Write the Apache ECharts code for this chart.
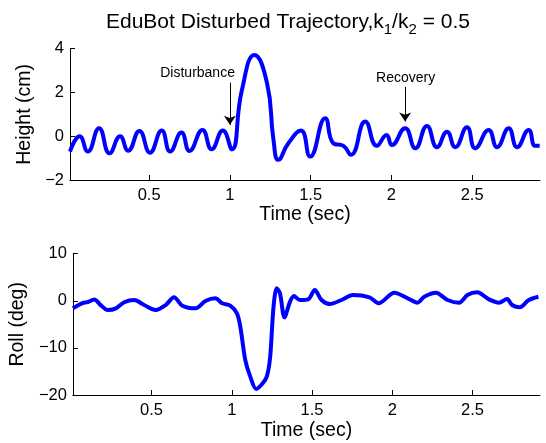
<!DOCTYPE html>
<html>
<head>
<meta charset="utf-8">
<script src="https://cdn.jsdelivr.net/npm/echarts@6/dist/echarts.min.js"></script>
<style>
  html, body { margin: 0; padding: 0; background: #fff; }
  #main { width: 546px; height: 443px; }
</style>
</head>
<body>
<div id="main"></div>
<script>
// top plot: height vs time
const heightTime = [0.01, 0.07, 0.12, 0.19, 0.255, 0.32, 0.37, 0.44, 0.505, 0.578, 0.63, 0.70, 0.75, 0.83, 0.887, 0.956,
  1.012, 1.074, 1.152, 1.23, 1.27, 1.30, 1.362, 1.44, 1.497, 1.59, 1.64, 1.703, 1.749, 1.838, 1.91, 1.97, 2.003,
  2.085, 2.148, 2.22, 2.282, 2.344, 2.395, 2.468, 2.519, 2.602, 2.654, 2.726, 2.778, 2.85, 2.89, 2.918]
const heightVal = [-0.70, 0.0, -0.70, 0.37, -0.78, 0.0, -0.66, 0.24, -0.75, 0.26, -0.70, 0.17, -0.67, 0.29, -0.60, 0.26,
  -0.60, 2.1, 3.71, 2.42, -0.17, -1.08, -0.32, 0.26, -0.93, 0.82, -0.32, -0.44, -0.85, 0.67, -0.44, 0.06, -0.40,
  0.37, -0.55, 0.47, -0.50, 0.21, -0.50, 0.41, -0.55, 0.29, -0.50, 0.37, -0.50, 0.29, -0.44, -0.44]

// bottom plot: roll vs time
const rollTime = [0.01, 0.07, 0.10, 0.144, 0.18, 0.227, 0.278, 0.33, 0.392, 0.454, 0.526, 0.588, 0.64, 0.692, 0.774, 0.836,
  0.898, 0.94, 0.99, 1.032, 1.053, 1.084, 1.115, 1.152, 1.19, 1.218, 1.239, 1.26, 1.28, 1.30, 1.328, 1.363, 1.387,
  1.424, 1.476, 1.517, 1.559, 1.61, 1.683, 1.755, 1.858, 1.914, 2.013, 2.096, 2.157, 2.199, 2.271, 2.344, 2.416,
  2.468, 2.529, 2.602, 2.664, 2.715, 2.746, 2.794, 2.85, 2.91]
const rollVal = [-1.6, -0.5, -0.3, 0.3, -0.8, -1.95, -1.6, -0.3, 0.17, -0.9, -1.95, -0.9, 0.74, -1.04, -1.6, -0.04,
  0.53, -0.53, -1.04, -2.65, -5.5, -12.6, -16.1, -18.7, -17.6, -16.1, -11.9, -1.25, 2.65, 1.6, -3.5, -0.18, 1.0,
  0.17, 0.3, 2.3, 0.17, -0.68, 0.17, 1.23, 0.74, -0.53, 1.72, 0.53, -0.4, 0.87, 1.72, 0.17, -0.4,
  1.23, 1.8, 0.3, -0.4, 0.38, -0.9, -1.38, 0.17, 0.87]

// annotations [label, textX, textY, arrowX, arrowTop, arrowBottom]
const notes = [
  ['Disturbance', 0.80, 2.88, 1.0, 2.45, 0.52],
  ['Recovery', 2.088, 2.65, 2.085, 2.26, 0.67]
]

const xTicks = [0.5, 1, 1.5, 2, 2.5]
const heightTicks = [-2, 0, 2, 4]
const rollTicks = [-20, -10, 0, 10]

const font = 'Liberation Sans, Arial, Helvetica, sans-serif'
const minus = v => String(v).replace('-', '\u2212')

const xAxisBase = (idx, gap) => ({
  gridIndex: idx,
  type: 'value',
  min: 0.01,
  max: 2.92,
  name: 'Time (sec)',
  nameLocation: 'middle',
  nameGap: gap,
  nameTextStyle: { fontFamily: font, fontSize: 19.5, color: '#000' },
  axisLine: { onZero: false, lineStyle: { color: '#000', width: 1 } },
  axisTick: { inside: true, length: 5, lineStyle: { color: '#000' }, customValues: xTicks },
  axisLabel: { fontFamily: font, fontSize: 16.5, color: '#000', margin: 7, customValues: xTicks },
  splitLine: { show: false }
})

const yAxisBase = (idx, name, min, max, interval) => ({
  gridIndex: idx,
  type: 'value',
  min: min,
  max: max,
  interval: interval,
  name: name,
  nameLocation: 'middle',
  nameGap: 33,
  nameTextStyle: { fontFamily: font, fontSize: 19.5, color: '#000' },
  axisLine: { show: true, onZero: false, lineStyle: { color: '#000', width: 1 } },
  axisTick: { show: true, inside: true, length: 5, lineStyle: { color: '#000' } },
  axisLabel: { fontFamily: font, fontSize: 16.5, color: '#000', margin: 6, formatter: minus },
  splitLine: { show: false }
})

const chart = echarts.init(document.getElementById('main'))

const option = {
  animation: false,
  backgroundColor: '#fff',
  title: {
    text: 'EduBot Disturbed Trajectory,k{sub|1}/k{sub|2} = 0.5',
    left: 101,
    top: 3,
    textStyle: {
      fontFamily: font, fontSize: 21, fontWeight: 'normal', color: '#000',
      rich: {
        sub: { fontFamily: font, fontSize: 15, color: '#000', verticalAlign: 'bottom', padding: [14, 0, 0, 0] }
      }
    }
  },
  grid: [
    { left: 70, right: 6, top: 48.7, height: 131.3 },
    { left: 70, right: 6, top: 253.7, height: 141.3 }
  ],
  xAxis: [xAxisBase(0, 24), xAxisBase(1, 26)],
  yAxis: [
    yAxisBase(0, 'Height (cm)', heightTicks[0], heightTicks[heightTicks.length - 1], 2),
    yAxisBase(1, 'Roll (deg)', rollTicks[0], rollTicks[rollTicks.length - 1], 10)
  ],
  series: [
    {
      type: 'line',
      xAxisIndex: 0,
      yAxisIndex: 0,
      data: heightTime.map((t, i) => [t, heightVal[i]]),
      smooth: 0.5,
      showSymbol: false,
      lineStyle: { color: '#0000ff', width: 4 },
      markLine: {
        silent: true,
        symbol: ['none', 'arrow'],
        symbolSize: 9,
        label: { show: false },
        lineStyle: { color: '#000', width: 1, type: 'solid' },
        data: notes.map(n => [{ coord: [n[3], n[4]] }, { coord: [n[3], n[5]] }])
      },
      markPoint: {
        silent: true,
        symbol: 'circle',
        symbolSize: 0,
        label: { show: true, position: 'inside', fontFamily: font, fontSize: 14, color: '#000' },
        data: notes.map(n => ({ coord: [n[1], n[2]], value: n[0], label: { formatter: n[0] } }))
      }
    },
    {
      type: 'line',
      xAxisIndex: 1,
      yAxisIndex: 1,
      data: rollTime.map((t, i) => [t, rollVal[i]]),
      smooth: 0.3,
      showSymbol: false,
      lineStyle: { color: '#0000ff', width: 4 }
    }
  ]
}

chart.setOption(option)
</script>
</body>
</html>
